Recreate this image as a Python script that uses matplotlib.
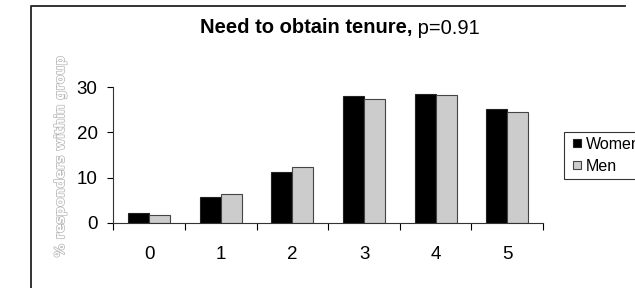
import matplotlib
matplotlib.use("Agg")
import matplotlib.pyplot as plt
import numpy as np
from matplotlib.lines import Line2D
import matplotlib.patheffects as pe

categories = ["0", "1", "2", "3", "4", "5"]
women = [2.1, 5.8, 11.2, 28.1, 28.5, 25.2]
men = [1.7, 6.3, 12.3, 27.3, 28.4, 24.5]
yticks = [0, 10, 20, 30]
series_names = ["Women", "Men"]
series_colors = ["black", "#cccccc"]
series_edges = ["#222222", "#444444"]

plt.rcParams['font.family'] = ['Liberation Sans', 'DejaVu Sans']

W, H = 635, 288
fig = plt.figure(figsize=(W/100, H/100), dpi=100)

# outer chart-area frame: only left and top edges are inside the image
fig.add_artist(Line2D([30.5/W, 30.5/W, 0.985], [0.0, 1 - 5.5/H, 1 - 5.5/H],
                      transform=fig.transFigure, color='#222222', linewidth=1.3))

ax = fig.add_axes([113.4/W, 65.3/H, 429.7/W, 135.4/H])
x = np.arange(len(categories))
bw = 0.293
ax.bar(x - bw/2, women, bw, color=series_colors[0], edgecolor=series_edges[0], linewidth=0.8)
ax.bar(x + bw/2, men, bw, color=series_colors[1], edgecolor=series_edges[1], linewidth=0.8)

ax.set_xlim(-0.5, len(categories) - 0.5)
ax.set_ylim(0, 30)
ax.set_yticks(yticks)
ax.set_yticklabels([str(v) for v in yticks], fontsize=13.5)
ax.set_xticks(x)
ax.set_xticklabels(categories, fontsize=13.5)
ax.tick_params(axis='x', which='major', length=0, pad=17)
ax.set_xticks(np.arange(-0.5, len(categories)), minor=True)
ax.tick_params(axis='x', which='minor', length=4.8, width=0.8, direction='out')
ax.tick_params(axis='y', length=4.4, width=0.8, pad=7)
for s in ['top', 'right']:
    ax.spines[s].set_visible(False)
for s in ['left', 'bottom']:
    ax.spines[s].set_linewidth(0.8)
    ax.spines[s].set_color('#333333')

t1 = fig.text(0, 0, "Need to obtain tenure,", fontsize=14.5, fontweight='bold', ha='left', va='center')
t2 = fig.text(0, 0, " p=0.91", fontsize=14.5, ha='left', va='center')
fig.canvas.draw()
r = fig.canvas.get_renderer()
w1 = t1.get_window_extent(r).width
w2 = t2.get_window_extent(r).width
x0 = 340 - (w1 + w2) / 2
t1.set_position((x0/W, 1 - 28/H))
t2.set_position(((x0 + w1)/W, 1 - 28/H))

fig.text(60.5/W, 1 - 156/H, "% responders within group", rotation=90, ha='center', va='center',
         fontsize=9.5, fontweight='bold', family='DejaVu Sans', color='white',
         path_effects=[pe.withStroke(linewidth=1.0, foreground='#b4b4b4')])

handles = [Line2D([], [], linestyle='none', marker='s', markersize=5.8,
                  markerfacecolor=c, markeredgecolor=e, markeredgewidth=0.8)
           for c, e in zip(series_colors, series_edges)]
leg = ax.legend(handles, series_names, loc='upper left', bbox_to_anchor=(564/W, 1 - 132/H),
                bbox_transform=fig.transFigure, fontsize=11.5, frameon=True, fancybox=False,
                edgecolor='black', handlelength=1.05, handletextpad=0.0, borderpad=0.3,
                labelspacing=0.45, borderaxespad=0)
leg.get_frame().set_linewidth(0.8)

fig.savefig("out.png", dpi=100)
